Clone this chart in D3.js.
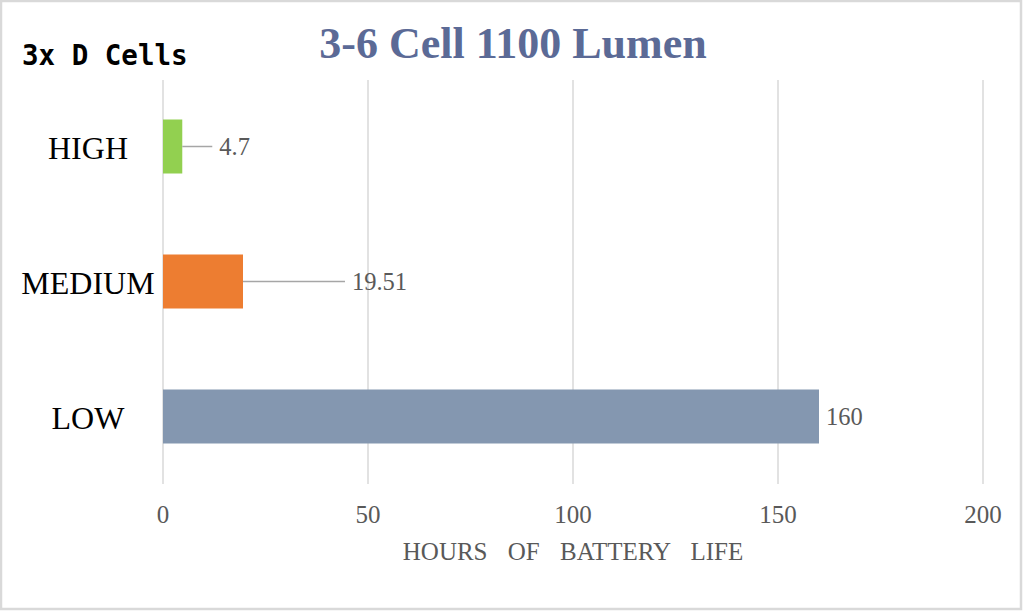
<!DOCTYPE html>
<html>
<head>
<meta charset="utf-8">
<script src="https://cdn.jsdelivr.net/npm/d3@7"></script>
<style>
  body { margin: 0; background: #fff; }
  svg { display: block; }
</style>
</head>
<body>
<svg id="chart" width="1024" height="613"></svg>
<script>
const modes = ['HIGH', 'MEDIUM', 'LOW'];
const hours = [4.7, 19.51, 160];
const barColors = ['#92d050', '#ed7d31', '#8497b0'];
const xTicks = [0, 50, 100, 150, 200];

// how far each data label was dragged out past its bar end (px)
const labelPull = [30, 102, 0];

const svg = d3.select('#chart');

// outer frame
svg.append('rect')
    .attr('x', 1).attr('y', 1)
    .attr('width', 1020).attr('height', 608)
    .style('fill', '#fff')
    .style('stroke', '#d9d9d9')
    .style('stroke-width', 2.5);

const x = d3.scaleLinear().domain([0, 200]).range([163, 983]);
const y = d3.scaleBand().domain(modes).range([79, 484]).paddingInner(0.6).paddingOuter(0.3);

// vertical gridlines
svg.append('g')
    .selectAll('line')
    .data(xTicks)
    .join('line')
    .attr('x1', d => x(d)).attr('x2', d => x(d))
    .attr('y1', 80).attr('y2', 484)
    .style('stroke', '#d9d9d9')
    .style('stroke-width', 1.5);

// tick labels
svg.append('g')
    .selectAll('text')
    .data(xTicks)
    .join('text')
    .attr('x', d => x(d))
    .attr('y', 523)
    .attr('text-anchor', 'middle')
    .style('font-family', '"Liberation Serif", serif')
    .style('font-size', '25px')
    .style('fill', '#595959')
    .text(d => d);

// bars
const rows = modes.map((m, i) => ({mode: m, value: hours[i], color: barColors[i], pull: labelPull[i]}));

svg.append('g')
    .selectAll('rect')
    .data(rows)
    .join('rect')
    .attr('x', x(0))
    .attr('y', d => y(d.mode))
    .attr('width', d => x(d.value) - x(0))
    .attr('height', y.bandwidth())
    .style('fill', d => d.color);

// leader lines
svg.append('g')
    .selectAll('line')
    .data(rows.filter(d => d.pull > 0))
    .join('line')
    .attr('x1', d => x(d.value))
    .attr('x2', d => x(d.value) + d.pull)
    .attr('y1', d => y(d.mode) + y.bandwidth() / 2)
    .attr('y2', d => y(d.mode) + y.bandwidth() / 2)
    .style('stroke', '#a6a6a6')
    .style('stroke-width', 1.5);

// data labels
svg.append('g')
    .selectAll('text')
    .data(rows)
    .join('text')
    .attr('x', d => x(d.value) + d.pull + 7)
    .attr('y', d => y(d.mode) + y.bandwidth() / 2 + 8)
    .style('font-family', '"Liberation Serif", serif')
    .style('font-size', '24.5px')
    .style('fill', '#595959')
    .text(d => d.value);

// category labels
svg.append('g')
    .selectAll('text')
    .data(modes)
    .join('text')
    .attr('x', 88)
    .attr('y', d => y(d) + y.bandwidth() / 2 + 12)
    .attr('text-anchor', 'middle')
    .style('font-family', '"Liberation Serif", serif')
    .style('font-size', '32px')
    .style('fill', '#000')
    .text(d => d);

// axis title
svg.append('text')
    .attr('x', x(100))
    .attr('y', 560)
    .attr('text-anchor', 'middle')
    .style('font-family', '"Liberation Serif", serif')
    .style('font-size', '25px')
    .style('word-spacing', '14px')
    .style('fill', '#595959')
    .text('HOURS OF BATTERY LIFE');

// chart title
svg.append('text')
    .attr('x', 513)
    .attr('y', 58)
    .attr('text-anchor', 'middle')
    .style('font-family', '"Liberation Serif", serif')
    .style('font-weight', 'bold')
    .style('font-size', '44px')
    .style('fill', '#5b6a96')
    .text('3-6 Cell 1100 Lumen');

// corner note
svg.append('text')
    .attr('x', 22)
    .attr('y', 65)
    .style('font-family', '"DejaVu Sans Mono", monospace')
    .style('font-weight', 'bold')
    .style('font-size', '27.5px')
    .style('fill', '#000')
    .text('3x D Cells');
</script>
</body>
</html>
